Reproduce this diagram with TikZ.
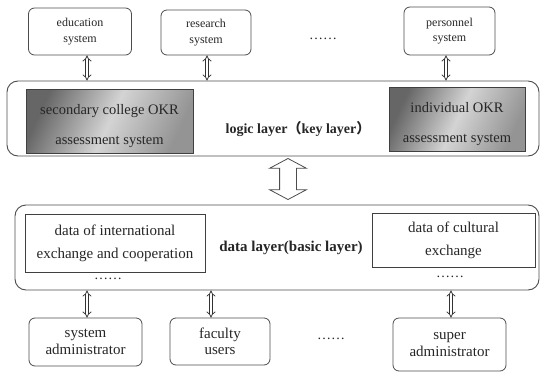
\documentclass[tikz,border=0pt]{standalone}
\usepackage{fontspec}
\setmainfont{Liberation Serif}
\newfontfamily\cjk{Noto Sans CJK SC}
\usetikzlibrary{arrows.meta,shapes.arrows}

% two centred lines, set a little lower without changing the box size
\newcommand\okrlines[2]{\raisebox{-5pt}[\height][\depth]{\begin{tabular}{@{}c@{}}#1\\[13.5pt]#2\end{tabular}}}

\begin{document}
\begin{tikzpicture}[x=1pt, y=-1pt,
    every node/.style={text=black!85},
    sysbox/.style={draw=black!70, line width=0.8pt, rounded corners=6pt, align=center, inner sep=0pt},
    layerbox/.style={draw=black!70, line width=0.9pt, rounded corners=11pt, inner sep=0pt},
    okrbox/.style={draw=black!75, line width=0.6pt, inner sep=0pt,
        left color=black!60, right color=black!42, middle color=black!17, shading angle=65,
        font=\fontsize{14.5}{17.4}\selectfont},
    databox/.style={draw=black!75, line width=0.8pt, align=center, inner sep=0pt,
        font=\fontsize{15}{23}\selectfont},
    dbl/.style={draw=black!80, line width=0.75pt, double=white, double distance=2.4pt, {Implies}-{Implies}},
    bigarrow/.style={double arrow, draw=black!70, line width=0.8pt, fill=white, rotate=90,
        minimum height=41pt, inner xsep=0pt, inner ysep=8pt, double arrow head extend=10pt,
        double arrow tip angle=124},
    dots/.style={font=\fontsize{14}{14}\selectfont}
]
    \useasboundingbox (0,0) rectangle (540,372);

    % outside systems
    \node[sysbox, minimum width=103pt, minimum height=47pt, font=\fontsize{12}{15.5}\selectfont] (edu) at (80,31.5) {education\\system};
    \node[sysbox, minimum width=90pt, minimum height=45pt, font=\fontsize{12}{15.5}\selectfont] (res) at (206,32.5) {research\\system};
    \node[dots] (topdots) at (323,39) {……};
    \node[sysbox, minimum width=91pt, minimum height=48pt, font=\fontsize{12}{15.5}\selectfont] (per) at (449.5,31) {personnel\\system};

    % logic layer
    \node[layerbox, minimum width=532pt, minimum height=75pt] (logic) at (273,118.5) {};
    \node[okrbox, minimum width=167pt, minimum height=64pt] (college) at (109.5,121) {\okrlines{secondary college OKR}{assessment system}};
    \node[okrbox, minimum width=136pt, minimum height=64pt] (indiv) at (457,119) {\okrlines{individual OKR}{assessment system}};
    \node[font=\fontsize{14}{16}\bfseries] (logiclbl) at (298,129) {logic layer{\cjk （}key layer{\cjk ）}};

    % data layer
    \node[layerbox, minimum width=524pt, minimum height=85pt] (data) at (277,247.5) {};
    \node[databox, minimum width=180pt, minimum height=58pt] (intl) at (115,243) {data of international\\exchange and cooperation};
    \node[databox, minimum width=163pt, minimum height=54pt] (cult) at (453.5,240) {data of cultural\\exchange};
    \node[font=\fontsize{15}{17}\bfseries] (datalbl) at (291,248) {data layer(basic layer)};
    \node[dots] (intldots) at (108,279) {……};
    \node[dots] (cultdots) at (450,277) {……};

    % users
    \node[sysbox, minimum width=113pt, minimum height=48pt, font=\fontsize{15}{16.5}\selectfont] (sysadm) at (85.5,342) {system\\administrator};
    \node[sysbox, minimum width=100pt, minimum height=47pt, font=\fontsize{15}{16.5}\selectfont] (fac) at (220,341.5) {faculty\\users};
    \node[dots] (botdots) at (331,339) {……};
    \node[sysbox, minimum width=113pt, minimum height=53pt, font=\fontsize{15}{16.5}\selectfont] (super) at (449.5,344.5) {super\\administrator};

    % links
    \draw[dbl] ([xshift=7pt]edu.south) -- ([xshift=7pt]edu.south |- logic.north);
    \draw[dbl] ([xshift=1pt]res.south) -- ([xshift=1pt]res.south |- logic.north);
    \draw[dbl] ([xshift=-3.5pt]per.south) -- ([xshift=-3.5pt]per.south |- logic.north);
    \node[bigarrow] (link) at (288,179) {};
    \draw[dbl] ([xshift=1.5pt]sysadm.north) -- ([xshift=1.5pt]sysadm.north |- data.south);
    \draw[dbl] ([xshift=-9pt]fac.north) -- ([xshift=-9pt]fac.north |- data.south);
    \draw[dbl] ([xshift=1.5pt]super.north) -- ([xshift=1.5pt]super.north |- data.south);
\end{tikzpicture}
\end{document}
